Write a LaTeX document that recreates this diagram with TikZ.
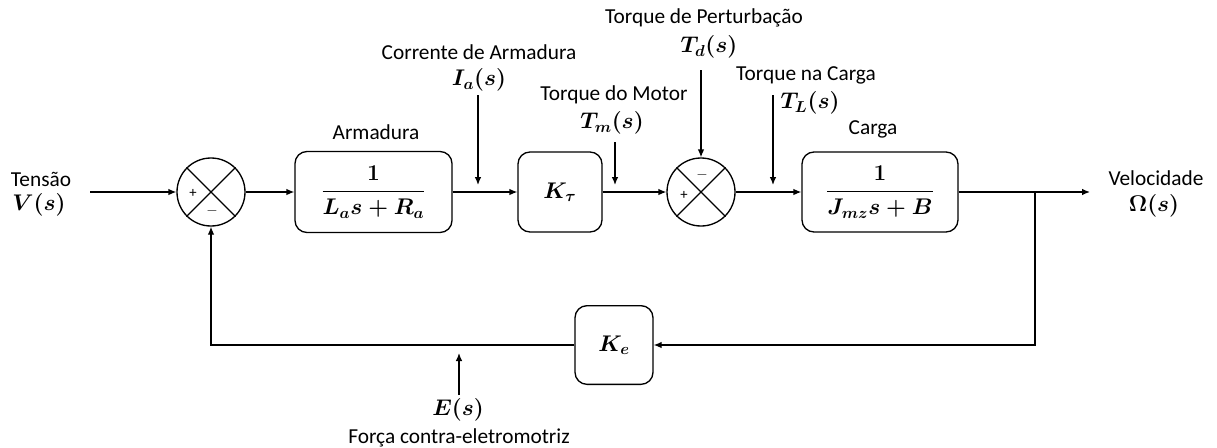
\documentclass[tikz,border=0pt]{standalone}
\usepackage{fix-cm}
\usepackage{amsmath}
\usepackage{bm}
\usepackage[no-math]{fontspec}
\setmainfont{Carlito}
\usetikzlibrary{arrows.meta}

\tikzset{every picture/.style={line width=0.75pt}}
\tikzset{
  blk/.style={draw, rounded corners=9pt, line width=1pt, inner sep=0pt, font=\fontsize{17}{20}\selectfont},
  sumnode/.style={draw, circle, line width=1pt, minimum size=51pt, inner sep=0pt},
  wire/.style={line width=1pt},
  sig/.style={line width=1pt, -{Latex[length=6pt,width=5pt]}},
  lbl/.style={inner sep=0.75pt, font=\fontsize{16}{19}\selectfont},
  mth/.style={inner sep=0.75pt, font=\fontsize{17}{20}\selectfont},
  sgn/.style={inner sep=0pt, font=\fontsize{11}{13}\selectfont},
}

\begin{document}
\begin{tikzpicture}[x=0.75pt,y=0.75pt,yscale=-1,xscale=1]
\useasboundingbox (0,0) rectangle (1217,447);

% Blocks
\node[sumnode] (sum1) at (211,192) {};
\node[blk, minimum width=117.75pt, minimum height=60.75pt] (arm) at (373.5,192) {$\bm{\dfrac{1}{L_a s + R_a}}$};
\node[blk, minimum width=63pt, minimum height=60pt] (ktau) at (560,192) {$\bm{K_\tau}$};
\node[sumnode] (sum2) at (701,192) {};
\node[blk, minimum width=117pt, minimum height=60pt] (carga) at (880,192) {$\bm{\dfrac{1}{J_{mz}s + B}}$};
\node[blk, minimum width=58.5pt, minimum height=59pt] (ke) at (614,345) {$\bm{K_e}$};

% Summing junctions
\draw[wire] (sum1.north west) -- (sum1.south east) (sum1.north east) -- (sum1.south west);
\draw[wire] (sum2.north west) -- (sum2.south east) (sum2.north east) -- (sum2.south west);
\node[sgn] (p1) at (193,193) {+};
\node[sgn] (m1) at (212,211) {$-$};
\node[sgn] (p2) at (684,195) {+};
\node[sgn] (m2) at (702,175) {$-$};

% Free ends
\coordinate (vin) at (90,192);
\coordinate (vout) at (1090,192);
\coordinate (branch) at (1035,192);
\coordinate (iatop) at (478,95);
\coordinate (iabot) at (478,185);
\coordinate (tmtop) at (615,142);
\coordinate (tmbot) at (615,185);
\coordinate (tdtop) at (701,70);
\coordinate (tltop) at (773,95);
\coordinate (tlbot) at (773,185);
\coordinate (ebot) at (459,395);
\coordinate (etop) at (459,353);

% Forward path
\draw[sig] (vin) -- (sum1);
\draw[sig] (sum1) -- (arm);
\draw[sig] (arm) -- (ktau);
\draw[sig] (ktau) -- (sum2);
\draw[sig] (sum2) -- (carga);
\draw[sig] (carga) -- (vout);

% Feedback path
\draw[sig] (branch) |- (ke);
\draw[sig] (ke) -| (sum1);

% Signal markers
\draw[sig] (iatop) -- (iabot);
\draw[sig] (tmtop) -- (tmbot);
\draw[sig] (tdtop) -- (sum2);
\draw[sig] (tltop) -- (tlbot);
\draw[sig] (ebot) -- (etop);

% Labels
\node[lbl] (tensao) at (41,179) {Tensão};
\node[mth] (vs) at (39,205) {$\bm{V(s)}$};
\node[lbl] (armlbl) at (376,132) {Armadura};
\node[lbl] (corrente) at (479,52) {Corrente de Armadura};
\node[mth] (ias) at (479,80) {$\bm{I_a(s)}$};
\node[lbl] (tmotor) at (614,95) {Torque do Motor};
\node[mth] (tms) at (612,123) {$\bm{T_m(s)}$};
\node[lbl] (tpert) at (704,18) {Torque de Perturbação};
\node[mth] (tds) at (709,47) {$\bm{T_d(s)}$};
\node[lbl] (tcarga) at (806,75) {Torque na Carga};
\node[mth] (tls) at (810,103) {$\bm{T_L(s)}$};
\node[lbl] (cargalbl) at (873,129) {Carga};
\node[lbl] (veloc) at (1156,178) {Velocidade};
\node[mth] (oms) at (1154,206) {$\bm{\Omega(s)}$};
\node[mth] (es) at (458,410) {$\bm{E(s)}$};
\node[lbl] (fcem) at (459,438) {Força contra-eletromotriz};

\end{tikzpicture}
\end{document}
